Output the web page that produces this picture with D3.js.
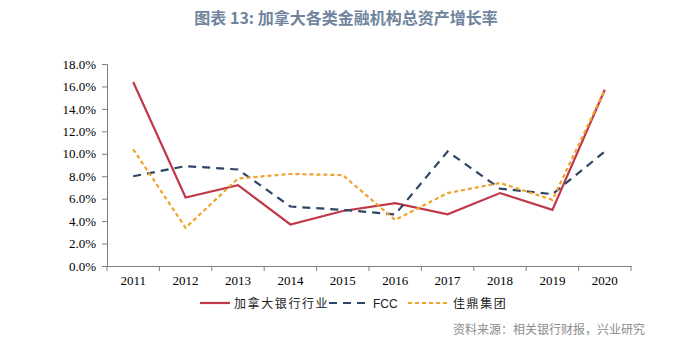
<!DOCTYPE html>
<html>
<head>
<meta charset="utf-8">
<script src="https://cdn.jsdelivr.net/npm/d3@7"></script>
<style>
  body { margin: 0; background: #fff; }
  svg { display: block; }
</style>
</head>
<body>
<div id="chart"></div>
<script>
// data
const years = ["2011", "2012", "2013", "2014", "2015", "2016", "2017", "2018", "2019", "2020"];
const canadaBanks = [16.4, 6.1, 7.2, 3.7, 4.9, 5.6, 4.6, 6.5, 5.0, 15.7];
const fcc = [8.0, 8.9, 8.6, 5.3, 5.0, 4.6, 10.2, 6.9, 6.4, 10.2];
const jiading = [10.4, 3.4, 7.8, 8.2, 8.1, 4.1, 6.5, 7.4, 5.9, 15.7];
const yTicks = [0, 2, 4, 6, 8, 10, 12, 14, 16, 18];
const seriesNames = ["加拿大银行行业", "FCC", "佳鼎集团"];

const W = 700, H = 353;
const margin = {top: 64, right: 69, bottom: 87, left: 107};
const width = W - margin.left - margin.right,
      height = H - margin.top - margin.bottom;

const svg = d3.select("#chart").append("svg")
    .attr("width", W)
    .attr("height", H);

// title
svg.append("text")
    .attr("x", 346).attr("y", 24)
    .attr("text-anchor", "middle")
    .style("font-family", "'Noto Sans CJK SC', 'Noto Sans', sans-serif")
    .style("font-size", "16px")
    .style("font-weight", "bold")
    .style("fill", "#71849e")
    .text("图表 13: 加拿大各类金融机构总资产增长率");

const g = svg.append("g")
    .attr("transform", "translate(" + margin.left + "," + margin.top + ")");

const x = d3.scaleBand().domain(years).range([0, width]);
const y = d3.scaleLinear().domain([0, 18]).range([height, 0]);

// axes
const xAxis = g.append("g")
    .attr("transform", "translate(0," + height + ")")
    .call(d3.axisBottom(x).tickSize(0).tickPadding(10));
// ticks at band boundaries
xAxis.selectAll(".edge")
    .data(years.concat(["end"]))
    .enter().append("line")
    .attr("x1", (d, i) => i * x.step())
    .attr("x2", (d, i) => i * x.step())
    .attr("y1", 0).attr("y2", 5)
    .attr("stroke", "#7f7f7f");

const yAxis = g.append("g")
    .call(d3.axisLeft(y).tickValues(yTicks).tickSize(5).tickPadding(6)
        .tickFormat(d => d.toFixed(1) + "%"));

g.selectAll(".domain").attr("stroke", "#7f7f7f");
g.selectAll(".tick line").attr("stroke", "#7f7f7f");
g.selectAll(".tick text")
    .style("font-family", "'Liberation Serif', 'Times New Roman', serif")
    .style("font-size", "13px")
    .style("fill", "#000");

// lines
const line = d3.line()
    .x((d, i) => x(years[i]) + x.bandwidth() / 2)
    .y(d => y(d));

const series = [
  {values: canadaBanks, color: "#c0384a", dash: null},
  {values: fcc, color: "#2f4566", dash: "8,6"},
  {values: jiading, color: "#f0a22c", dash: "4,3"}
];

series.forEach(s => {
  g.append("path")
      .datum(s.values)
      .attr("d", line)
      .attr("fill", "none")
      .attr("stroke", s.color)
      .attr("stroke-width", 2.2)
      .attr("stroke-dasharray", s.dash);
});

// legend
const legendY = 303;
const legendItems = [
  {x1: 200, x2: 230, tx: 234, font: "'Noto Sans CJK SC', sans-serif", spacing: "1.6px"},
  {x1: 329, x2: 367, tx: 373, font: "'Liberation Sans', Arial, sans-serif", spacing: "0px"},
  {x1: 408, x2: 448, tx: 453, font: "'Noto Sans CJK SC', sans-serif", spacing: "1.6px"}
];
legendItems.forEach((it, i) => {
  svg.append("line")
      .attr("x1", it.x1).attr("x2", it.x2)
      .attr("y1", legendY).attr("y2", legendY)
      .attr("stroke", series[i].color)
      .attr("stroke-width", 2.2)
      .attr("stroke-dasharray", series[i].dash);
  svg.append("text")
      .attr("x", it.tx).attr("y", legendY + 4.5)
      .style("font-family", it.font)
      .style("font-size", "12px")
      .style("letter-spacing", it.spacing)
      .style("fill", "#222")
      .text(seriesNames[i]);
});

// source note
svg.append("text")
    .attr("x", 453).attr("y", 334)
    .style("font-family", "'Noto Sans CJK SC', sans-serif")
    .style("font-size", "12px")
    .style("fill", "#8c8c8c")
    .text("资料来源：相关银行财报，兴业研究");
</script>
</body>
</html>
